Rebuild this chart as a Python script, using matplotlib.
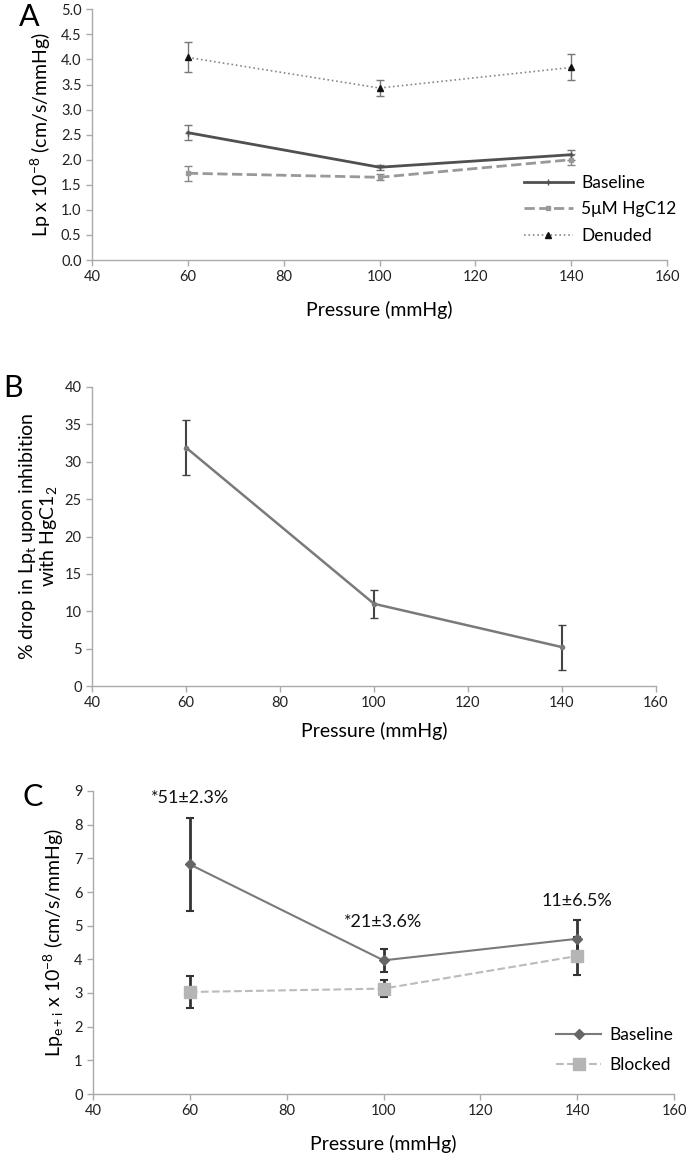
import matplotlib
matplotlib.use('Agg')
import matplotlib.pyplot as plt

plt.rcParams['font.family'] = ['Lato', 'DejaVu Sans']
plt.rcParams['mathtext.default'] = 'regular'

pressure = [60, 100, 140]

# panel A
a_baseline = [2.54, 1.85, 2.10]
a_baseline_err = [0.15, 0.05, 0.10]
a_hg = [1.73, 1.65, 2.00]
a_hg_err = [0.15, 0.06, 0.11]
a_denuded = [4.04, 3.43, 3.84]
a_denuded_err = [0.30, 0.16, 0.26]

# panel B
b_drop = [31.9, 11.0, 5.2]
b_drop_err = [3.65, 1.9, 3.0]

# panel C
c_baseline = [6.82, 3.97, 4.61]
c_baseline_err = [1.38, 0.35, 0.57]
c_blocked = [3.03, 3.13, 4.10]
c_blocked_err = [0.47, 0.26, 0.56]
c_notes = ['*51\u00b12.3%', '*21\u00b13.6%', '11\u00b16.5%']
c_note_y = [8.78, 5.12, 5.72]

W, H = 686, 1153
fig = plt.figure(figsize=(W / 100, H / 100), dpi=100)


def box(l, r, t, b):
    return [l / W, 1 - b / H, (r - l) / W, (b - t) / H]


def style(ax):
    for s in ['top', 'right']:
        ax.spines[s].set_visible(False)
    for s in ['left', 'bottom']:
        ax.spines[s].set_color('#aaaaaa')
        ax.spines[s].set_linewidth(1.0)
    ax.tick_params(colors='#aaaaaa', labelcolor='#222222', labelsize=10.5,
                   length=4, width=1.0)
    ax.set_xlim(40, 160)
    ax.set_xticks(range(40, 161, 20))


# ---- A ----
ax = fig.add_axes(box(92, 667, 9.3, 260))
style(ax)
h1 = ax.errorbar(pressure, a_baseline, yerr=a_baseline_err, color='#505050', lw=2,
                 marker='+', ms=4, ecolor='#777777', elinewidth=1, capsize=3)
h2 = ax.errorbar(pressure, a_hg, yerr=a_hg_err, color='#999999', lw=2, ls='--',
                 marker='s', ms=3, ecolor='#888888', elinewidth=1, capsize=3)
h3 = ax.errorbar(pressure, a_denuded, yerr=a_denuded_err, color='#888888', lw=1.2,
                 ls=':', marker='^', ms=5, mfc='#111111', mec='#111111',
                 ecolor='#777777', elinewidth=1, capsize=3)
ax.set_ylim(0, 5)
ax.set_yticks([i * 0.5 for i in range(11)])
ax.set_yticklabels(['%.1f' % (i * 0.5) for i in range(11)])
ax.set_xlabel('Pressure (mmHg)', fontsize=14, labelpad=12)
ax.set_ylabel('Lp x 10$^{-8}$ (cm/s/mmHg)', fontsize=14, labelpad=6)
ax.legend([h1[0], h2[0], h3[0]], ['Baseline', '5\u03bcM HgC12', 'Denuded'],
          loc='upper left', bbox_to_anchor=(524 / W, 1 - 175 / H),
          bbox_transform=fig.transFigure, frameon=False, fontsize=12.5,
          handlelength=2.8, handletextpad=0.5, labelspacing=0.6,
          borderaxespad=0, borderpad=0)
fig.text(29 / W, 1 - 17 / H, 'A', fontsize=22, ha='center', va='center')

# ---- B ----
ax = fig.add_axes(box(92, 656, 387, 686))
style(ax)
ax.errorbar(pressure, b_drop, yerr=b_drop_err, color='#7a7a7a', lw=1.8,
            marker='o', ms=3, ecolor='#444444', elinewidth=1.5, capsize=3)
ax.set_ylim(0, 40)
ax.set_yticks(range(0, 41, 5))
ax.set_xlabel('Pressure (mmHg)', fontsize=14, labelpad=8)
ax.set_ylabel('% drop in Lp$_{t}$ upon inhibition\nwith HgC1$_{2}$',
              fontsize=14, labelpad=4, linespacing=1.0)
fig.text(13 / W, 1 - 388 / H, 'B', fontsize=22, ha='center', va='center')

# ---- C ----
ax = fig.add_axes(box(93, 674, 791, 1094))
style(ax)
g1 = ax.errorbar(pressure, c_baseline, yerr=c_baseline_err, color='#7a7a7a',
                 lw=1.5, marker='D', ms=5.5, mfc='#666666', mec='#666666',
                 ecolor='#333333', elinewidth=2, capsize=3, capthick=1.5)
g2 = ax.errorbar(pressure, c_blocked, yerr=c_blocked_err, color='#bbbbbb', lw=1.5,
                 ls='--', marker='s', ms=8, mfc='#b5b5b5', mec='#b5b5b5',
                 ecolor='#333333', elinewidth=2, capsize=3, capthick=1.5)
for x, y, t in zip(pressure, c_note_y, c_notes):
    ax.text(x, y, t, ha='center', va='center', fontsize=13, color='#111111')
ax.set_ylim(0, 9)
ax.set_yticks(range(10))
ax.set_xlabel('Pressure (mmHg)', fontsize=14, labelpad=12)
ax.set_ylabel('Lp$_{e+i}$ x 10$^{-8}$ (cm/s/mmHg)', fontsize=14, labelpad=6)
ax.legend([g1[0], g2[0]], ['Baseline', 'Blocked'],
          loc='upper left', bbox_to_anchor=(556 / W, 1 - 1027 / H),
          bbox_transform=fig.transFigure, frameon=False, fontsize=12.5,
          handlelength=2.6, handletextpad=0.5, labelspacing=0.8,
          borderaxespad=0, borderpad=0)
fig.text(33 / W, 1 - 797 / H, 'C', fontsize=22, ha='center', va='center')

fig.savefig('out.png', dpi=100, facecolor='white')
